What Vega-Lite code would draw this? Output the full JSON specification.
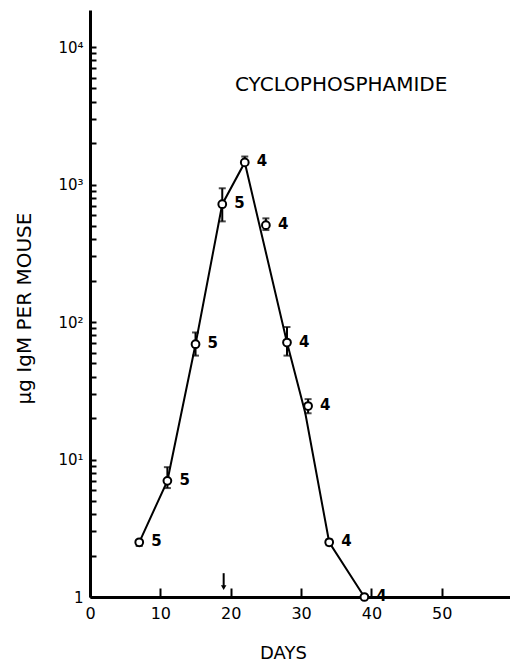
{
  "$schema": "https://vega.github.io/schema/vega-lite/v6.json",
  "width": 420,
  "height": 587,
  "autosize": "none",
  "padding": {"left": 90, "top": 10, "right": 0, "bottom": 65},
  "background": "white",
  "config": {"view": {"stroke": null}, "font": "DejaVu Sans"},
  "datasets": {
    "points": [
      {"day": 7, "igm": 2.5, "lo": 2.35, "hi": 2.6, "n": "5"},
      {"day": 11, "igm": 7.0, "lo": 6.2, "hi": 8.8, "n": "5"},
      {"day": 15, "igm": 69, "lo": 57, "hi": 84, "n": "5"},
      {"day": 18.8, "igm": 720, "lo": 540, "hi": 940, "n": "5"},
      {"day": 22, "igm": 1450, "lo": 1400, "hi": 1600, "n": "4"},
      {"day": 25, "igm": 507, "lo": 467, "hi": 568, "n": "4"},
      {"day": 28, "igm": 71, "lo": 57, "hi": 92, "n": "4"},
      {"day": 31, "igm": 24.5, "lo": 21.7, "hi": 27.5, "n": "4"},
      {"day": 34, "igm": 2.5, "lo": 2.38, "hi": 2.62, "n": "4"},
      {"day": 39, "igm": 1.0, "lo": 1.0, "hi": 1.0, "n": "4"}
    ],
    "curve": [
      {"day": 7, "igm": 2.5},
      {"day": 11, "igm": 7.0},
      {"day": 15, "igm": 69},
      {"day": 18.8, "igm": 720},
      {"day": 22, "igm": 1450},
      {"day": 28, "igm": 71},
      {"day": 30.6, "igm": 21.8},
      {"day": 34, "igm": 2.5},
      {"day": 39, "igm": 1.0}
    ],
    "arrow": [{"day": 19, "top": 1.49, "bottom": 1.2, "head": 1.17}],
    "note": [{"day": 35.7, "igm": 4786, "label": "CYCLOPHOSPHAMIDE"}]
  },
  "layer": [
    {
      "data": {"name": "curve"},
      "mark": {"type": "line", "color": "black", "strokeWidth": 2},
      "encoding": {
        "x": {
          "field": "day", "type": "quantitative",
          "scale": {"domain": [0, 59.7], "nice": false, "zero": false},
          "axis": {
            "title": "DAYS", "values": [0, 10, 20, 30, 40, 50],
            "grid": false, "domainColor": "black", "domainWidth": 3,
            "tickColor": "black", "tickSize": -9, "tickWidth": 2,
            "labelFontSize": 16, "labelColor": "black", "labelPadding": 17,
            "labelFont": "DejaVu Sans", "labelFlush": false,
            "titleFontSize": 18, "titleFontWeight": "normal", "titleColor": "black",
            "titleFont": "DejaVu Sans",
            "titleX": 193, "titleY": 61, "titleBaseline": "alphabetic", "titleAlign": "center"
          }
        },
        "y": {
          "field": "igm", "type": "quantitative",
          "scale": {"type": "log", "domain": [1, 18620], "nice": false},
          "axis": {
            "title": "μg IgM PER MOUSE",
            "values": [1,2,3,4,5,6,7,8,9,10,20,30,40,50,60,70,80,90,100,200,300,400,500,600,700,800,900,1000,2000,3000,4000,5000,6000,7000,8000,9000,10000],
            "labelExpr": "datum.value == 1 ? '1' : datum.value == 10 ? '10¹' : datum.value == 100 ? '10²' : datum.value == 1000 ? '10³' : datum.value == 10000 ? '10⁴' : ''",
            "grid": false, "domainColor": "black", "domainWidth": 3,
            "tickColor": "black", "tickSize": -6, "tickWidth": 2,
            "labelFontSize": 15, "labelColor": "black", "labelPadding": 13,
            "labelFont": "DejaVu Sans", "labelFlush": false,
            "titleFontSize": 20, "titleFontWeight": "normal", "titleColor": "black",
            "titleFont": "DejaVu Sans",
            "titleAngle": -90, "titleX": -60, "titleY": 298,
            "titleBaseline": "alphabetic", "titleAlign": "center"
          }
        }
      }
    },
    {
      "data": {"name": "points"},
      "mark": {"type": "rule", "color": "black", "strokeWidth": 2},
      "encoding": {
        "x": {"field": "day", "type": "quantitative"},
        "y": {"field": "lo", "type": "quantitative"},
        "y2": {"field": "hi"}
      }
    },
    {
      "data": {"name": "points"},
      "mark": {"type": "point", "shape": "stroke", "size": 49, "color": "black", "strokeWidth": 2, "filled": false},
      "encoding": {
        "x": {"field": "day", "type": "quantitative"},
        "y": {"field": "lo", "type": "quantitative"}
      }
    },
    {
      "data": {"name": "points"},
      "mark": {"type": "point", "shape": "stroke", "size": 49, "color": "black", "strokeWidth": 2, "filled": false},
      "encoding": {
        "x": {"field": "day", "type": "quantitative"},
        "y": {"field": "hi", "type": "quantitative"}
      }
    },
    {
      "data": {"name": "points"},
      "mark": {"type": "point", "shape": "circle", "size": 60, "filled": true, "fill": "white", "stroke": "black", "strokeWidth": 2, "opacity": 1},
      "encoding": {
        "x": {"field": "day", "type": "quantitative"},
        "y": {"field": "igm", "type": "quantitative"}
      }
    },
    {
      "data": {"name": "points"},
      "mark": {"type": "text", "align": "left", "baseline": "middle", "dx": 12, "dy": -1, "fontSize": 15, "fontWeight": "bold", "color": "black", "font": "DejaVu Sans"},
      "encoding": {
        "x": {"field": "day", "type": "quantitative"},
        "y": {"field": "igm", "type": "quantitative"},
        "text": {"field": "n"}
      }
    },
    {
      "data": {"name": "arrow"},
      "mark": {"type": "rule", "color": "black", "strokeWidth": 2},
      "encoding": {
        "x": {"field": "day", "type": "quantitative"},
        "y": {"field": "top", "type": "quantitative"},
        "y2": {"field": "bottom"}
      }
    },
    {
      "data": {"name": "arrow"},
      "mark": {"type": "point", "shape": "triangle-down", "size": 30, "filled": true, "color": "black", "opacity": 1},
      "encoding": {
        "x": {"field": "day", "type": "quantitative"},
        "y": {"field": "head", "type": "quantitative"}
      }
    },
    {
      "data": {"name": "note"},
      "mark": {"type": "text", "align": "center", "baseline": "alphabetic", "fontSize": 20, "color": "black", "font": "DejaVu Sans"},
      "encoding": {
        "x": {"field": "day", "type": "quantitative"},
        "y": {"field": "igm", "type": "quantitative"},
        "text": {"field": "label"}
      }
    }
  ]
}
